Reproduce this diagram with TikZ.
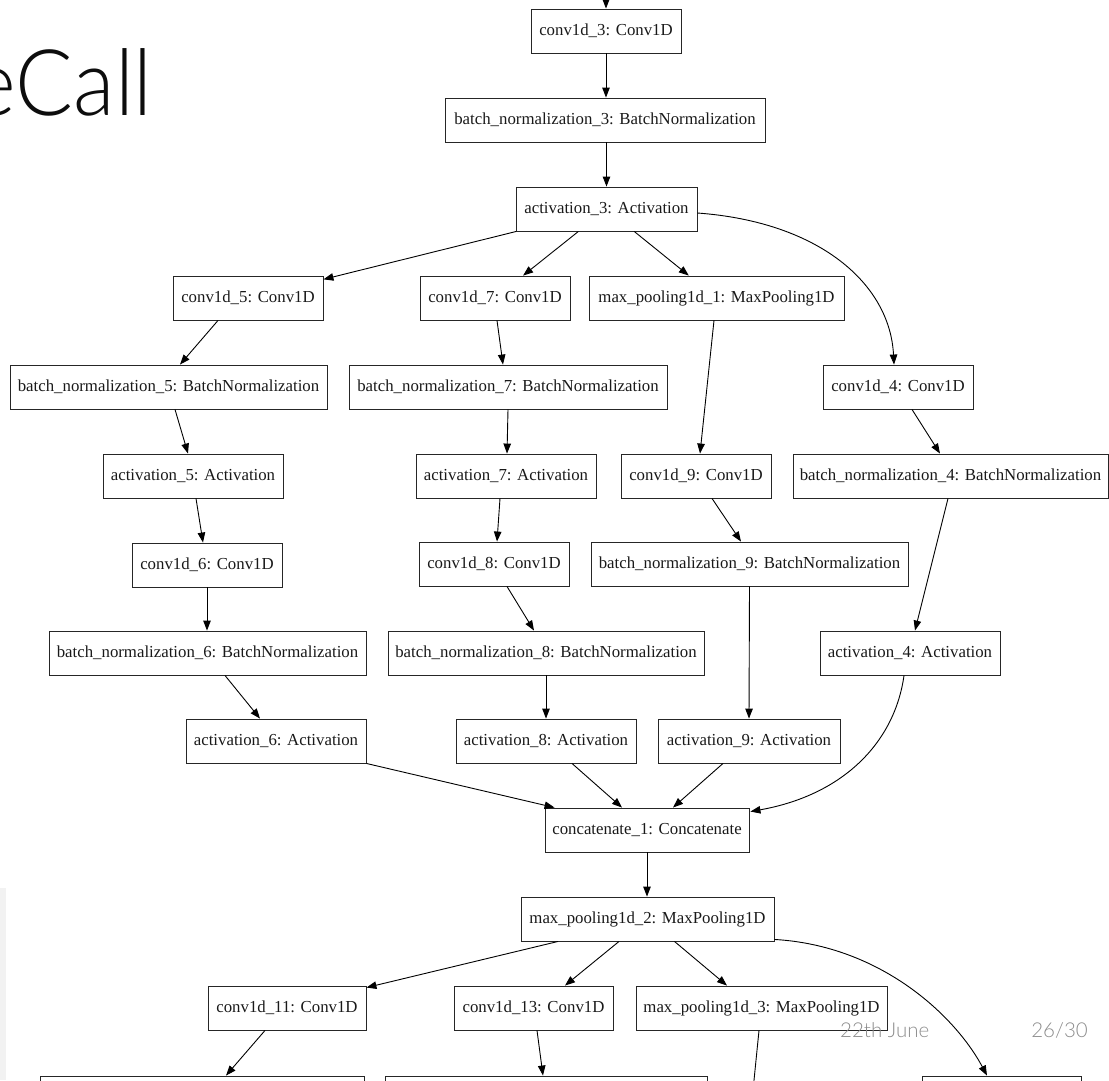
\documentclass[tikz,border=0pt]{standalone}
\usepackage{fontspec}
\setmainfont{Liberation Serif}
\newfontfamily\slidefont{Lato Light}
\usetikzlibrary{arrows.meta,calc}

\begin{document}
\begin{tikzpicture}[x=1pt,y=-1pt,
  layer/.style={draw=black!85, line width=0.9pt, minimum height=44pt, inner sep=0pt,
    font=\fontsize{16.8}{18}\selectfont, text=black!90},
  flow/.style={draw=black, line width=0.9pt, -{Triangle[length=10pt,width=7.5pt]}},
  plain/.style={draw=black, line width=0.9pt},
  footer/.style={font=\slidefont\fontsize{20.5}{22}\selectfont, text=black!45, inner sep=0pt}]
\useasboundingbox (0,0) rectangle (1109,1080);
\clip (0,0) rectangle (1109,1080);

% slide furniture
\fill[black!5] (0,888) rectangle (6,1080);
\node[anchor=base east, inner sep=0pt, xscale=0.93, text=black!95,
  font=\slidefont\fontsize{92}{92}\selectfont] (title) at (153,115) {eCall};

% model graph: first block
\coordinate (in0) at (606,-30);
\node[layer,minimum width=150pt] (c3)  at (606,31)    {conv1d\_3: Conv1D};
\node[layer,minimum width=320pt] (bn3) at (605,120)   {batch\_normalization\_3: BatchNormalization};
\node[layer,minimum width=181pt] (a3)  at (606.5,209) {activation\_3: Activation};

\node[layer,minimum width=150pt] (c5)  at (248,298)   {conv1d\_5: Conv1D};
\node[layer,minimum width=150pt] (c7)  at (495,298)   {conv1d\_7: Conv1D};
\node[layer,minimum width=255pt] (mp1) at (716.5,298) {max\_pooling1d\_1: MaxPooling1D};

\node[layer,minimum width=317pt] (bn5) at (168.5,387) {batch\_normalization\_5: BatchNormalization};
\node[layer,minimum width=318pt] (bn7) at (508,387)   {batch\_normalization\_7: BatchNormalization};
\node[layer,minimum width=150pt] (c4)  at (898,387)   {conv1d\_4: Conv1D};

\node[layer,minimum width=180pt] (a5)  at (193,476)   {activation\_5: Activation};
\node[layer,minimum width=180pt] (a7)  at (506,476)   {activation\_7: Activation};
\node[layer,minimum width=150pt] (c9)  at (696,476)   {conv1d\_9: Conv1D};
\node[layer,minimum width=315pt] (bn4) at (950.5,476) {batch\_normalization\_4: BatchNormalization};

\node[layer,minimum width=150pt] (c6)  at (207,565)   {conv1d\_6: Conv1D};
\node[layer,minimum width=150pt] (c8)  at (494,564)   {conv1d\_8: Conv1D};
\node[layer,minimum width=317pt] (bn9) at (749.5,564) {batch\_normalization\_9: BatchNormalization};

\node[layer,minimum width=317pt] (bn6) at (207.5,653) {batch\_normalization\_6: BatchNormalization};
\node[layer,minimum width=316pt] (bn8) at (546,653)   {batch\_normalization\_8: BatchNormalization};
\node[layer,minimum width=180pt] (a4)  at (910,653)   {activation\_4: Activation};

\node[layer,minimum width=180pt] (a6)  at (276,741)   {activation\_6: Activation};
\node[layer,minimum width=180pt] (a8)  at (546,741)   {activation\_8: Activation};
\node[layer,minimum width=182pt] (a9)  at (749,741)   {activation\_9: Activation};

\node[layer,minimum width=204pt] (cat) at (647,830)   {concatenate\_1: Concatenate};
\node[layer,minimum width=253pt] (mp2) at (647.5,919) {max\_pooling1d\_2: MaxPooling1D};

\node[layer,minimum width=158pt] (c11) at (287,1008)   {conv1d\_11: Conv1D};
\node[layer,minimum width=159pt] (c13) at (533.5,1008) {conv1d\_13: Conv1D};
\node[layer,minimum width=251pt] (mp3) at (761.5,1008) {max\_pooling1d\_3: MaxPooling1D};

% next row, running past the lower edge
\node[layer,minimum width=324pt] (bl) at (202,1098)    {};
\node[layer,minimum width=322pt] (bm) at (546,1098)    {};
\node[layer,minimum width=159pt] (br) at (1001.5,1098) {};
\coordinate (out3) at (748,1140);

% connectors
\draw[flow] (in0) -- (c3.north);
\draw[flow] (c3.south) -- (c3.south |- bn3.north);
\draw[flow] (a3.north |- bn3.south) -- (a3.north);
\draw[flow] (a3) -- (c5);
\draw[flow] (a3) -- (c7);
\draw[flow] (a3) -- (mp1);
\draw[flow] ($(a3.east)+(0,4)$) .. controls +(123,9) and +(-4,-80) .. ($(c4.north)+(-4,0)$);

\draw[flow] ($(c5.south)+(-30,0)$)  -- ($(bn5.north)+(11.5,0)$);
\draw[flow] ($(c7.south)+(2,0)$)    -- ($(bn7.north)+(-5,0)$);
\draw[flow] ($(mp1.south)+(-2.5,0)$) -- ($(c9.north)+(4,0)$);
\draw[flow] ($(c4.south)+(14,0)$)   -- ($(bn4.north)+(-10.5,0)$);

\draw[flow] ($(bn5.south)+(6.5,0)$) -- ($(a5.north)+(-5,0)$);
\draw[flow] (bn7.south) -- ($(a7.north)+(1,0)$);
\draw[flow] ($(c9.south)+(16,0)$)   -- ($(bn9.north)+(-8.5,0)$);
\draw[flow] ($(bn4.south)+(-2.5,0)$) -- ($(a4.north)+(5,0)$);

\draw[flow] ($(a5.south)+(3,0)$)    -- ($(c6.north)+(-4,0)$);
\draw[flow] ($(a7.south)+(-6,0)$)   -- ($(c8.north)+(3,0)$);
\draw[flow] (bn9.south) -- (a9.north);

\draw[flow] (c6.south) -- (c6.south |- bn6.north);
\draw[flow] ($(c8.south)+(13,0)$)   -- ($(bn8.north)+(-12,0)$);
\draw[flow] ($(bn6.south)+(17.5,0)$) -- ($(a6.north)+(-16,0)$);
\draw[flow] (bn8.south) -- (a8.north);

\draw[flow] (a6.south east) -- ($(cat.north west)+(10,0)$);
\draw[flow] ($(a8.south)+(26,0)$)   -- ($(cat.north)+(-25,0)$);
\draw[flow] ($(a9.south)+(-26,0)$)  -- ($(cat.north)+(26,0)$);
\draw[flow] ($(a4.south)+(-6,0)$) .. controls +(-9,65) and +(95,-17) .. ($(cat.north east)+(1,4)$);

\draw[flow] (cat.south) -- (cat.south |- mp2.north);

\draw[flow] ($(mp2.south)+(-89.5,0)$) -- ($(c11.north east)+(0,2)$);
\draw[flow] ($(mp2.south)+(-28.5,0)$) -- ($(c13.north)+(31.5,0)$);
\draw[flow] ($(mp2.south)+(27,0)$)    -- ($(mp3.north)+(-34.5,0)$);
\draw[flow] ($(mp2.south east)+(0,-2)$) .. controls +(106,6) and +(-32,-60) .. ($(br.north)+(-14.5,0)$);

\draw[flow] ($(c11.south)+(-22,0)$) -- ($(bl.north)+(24,0)$);
\draw[flow] ($(c13.south)+(3.5,0)$) -- ($(bm.north)+(-3,0)$);
\draw[plain] ($(mp3.south)+(-2.5,0)$) -- (out3);

% page footer
\node[footer, anchor=base west] (date) at (840,1037) {22th June};
\node[footer, anchor=base east] (page) at (1088,1037) {26/30};
\end{tikzpicture}
\end{document}
